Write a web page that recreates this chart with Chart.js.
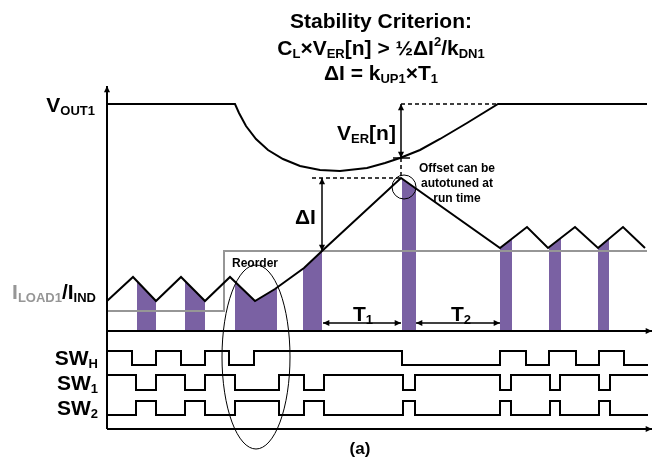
<!DOCTYPE html>
<html>
<head>
<meta charset="utf-8">
<script src="https://cdn.jsdelivr.net/npm/chart.js@4"></script>
<style>
  html, body { margin: 0; padding: 0; background: #fff; }
  #wrap { width: 653px; height: 466px; }
</style>
</head>
<body>
<div id="wrap"><canvas id="grafico" width="653" height="466"></canvas></div>
<script>
const voutX = [107, 235, 239, 246, 256, 268, 283, 300, 320, 340, 367, 385, 400, 420, 440, 467, 498, 647];
const voutY = [104, 104, 113, 126, 139, 150, 159, 166, 170, 171, 168, 163, 158, 150, 139, 123, 104, 104];

const iLoadX = [107, 224, 224, 647];
const iLoadY = [311, 311, 251, 251];

const iIndX = [107, 133, 156, 181, 205, 230, 255, 275, 304, 322, 401, 500, 527, 548, 575, 598, 623, 645];
const iIndY = [301, 277, 301, 277, 301, 277, 301, 289, 268, 251, 178, 248, 227, 248, 227, 248, 227, 248];

// conduction windows of SW1 (shaded under the inductor current)
const barSpans = [[137, 156], [185, 205], [235, 277], [303, 322], [402, 416], [500, 512], [549, 561], [598, 609]];
const baseY = 331;

// switch edges and state after each edge (1 = high)
const swHX = [107, 132, 156, 181, 205, 229, 254, 402, 500, 526, 549, 576, 599, 624, 648];
const swHS = [1, 0, 1, 0, 1, 0, 1, 0, 1, 0, 1, 0, 1, 0, 0];
const sw1X = [107, 136, 156, 185, 205, 235, 279, 304, 324, 403, 415, 500, 511, 550, 560, 599, 610, 648];
const sw1S = [1, 0, 1, 0, 1, 0, 1, 0, 1, 0, 1, 0, 1, 0, 1, 0, 1, 1];
const sw2X = sw1X;
const sw2S = [0, 1, 0, 1, 0, 1, 0, 1, 0, 1, 0, 1, 0, 1, 0, 1, 0, 0];
const laneHi = [351, 375, 401];
const laneLo = [365, 390, 415];

const dashedLines = [[[401, 104], [498, 104]], [[312, 178], [401, 178]], [[401, 158], [401, 178]]];
const tickLines = [[[393, 158], [410, 158]]];
const arrows = [[[401, 104], [401, 158]], [[322, 178], [322, 251]], [[323, 323], [401, 323]], [[416, 323], [500, 323]]];
const axisArrows = [[[107, 429], [107, 86]], [[107, 331], [652, 331]], [[107, 429], [652, 429]]];
const ellipses = [[256, 357, 34, 92], [404, 187, 12, 12]];

const purple = "rgb(122, 97, 163)";
const grey = "rgb(150, 150, 150)";
const FONT = "'Liberation Sans', Arial, sans-serif";

const pts = (xs, ys) => xs.map((x, i) => ({ x: x, y: ys[i] }));

function lineAt(x) {
  for (let i = 1; i < iIndX.length; i++) {
    if (x <= iIndX[i]) {
      const t = (x - iIndX[i - 1]) / (iIndX[i] - iIndX[i - 1]);
      return iIndY[i - 1] + t * (iIndY[i] - iIndY[i - 1]);
    }
  }
  return iIndY[iIndY.length - 1];
}
function barTop(span) {
  const out = [{ x: span[0], y: lineAt(span[0]) }];
  iIndX.forEach((x, i) => { if (x > span[0] && x < span[1]) out.push({ x: x, y: iIndY[i] }); });
  out.push({ x: span[1], y: lineAt(span[1]) });
  return out;
}
function lane(xs, ss, k) {
  return xs.map((x, i) => ({ x: x, y: ss[i] ? laneHi[k] : laneLo[k] }));
}

const lineDs = (data, color, width, extra) => Object.assign({
  data: data, borderColor: color, borderWidth: width, pointRadius: 0, fill: false, tension: 0, order: 1,
}, extra || {});

const datasets = [
  lineDs(pts(voutX, voutY), "#000", 2),
  lineDs(pts(iIndX, iIndY), "#000", 2),
  lineDs(pts(iLoadX, iLoadY), grey, 2),
  lineDs(lane(swHX, swHS, 0), "#000", 2, { stepped: true }),
  lineDs(lane(sw1X, sw1S, 1), "#000", 2, { stepped: true }),
  lineDs(lane(sw2X, sw2S, 2), "#000", 2, { stepped: true }),
];
dashedLines.forEach(l => datasets.push(lineDs(l.map(p => ({ x: p[0], y: p[1] })), "#000", 1.5, { borderDash: [4, 3] })));
tickLines.forEach(l => datasets.push(lineDs(l.map(p => ({ x: p[0], y: p[1] })), "#000", 1.5)));
barSpans.forEach(s => datasets.push({
  data: barTop(s), borderWidth: 0, pointRadius: 0, tension: 0, order: 5,
  backgroundColor: purple, fill: { value: baseY },
}));

function arrowHead(ctx, x1, y1, x2, y2, size) {
  const a = Math.atan2(y2 - y1, x2 - x1);
  ctx.beginPath();
  ctx.moveTo(x2, y2);
  ctx.lineTo(x2 - size * Math.cos(a - 0.45), y2 - size * Math.sin(a - 0.45));
  ctx.lineTo(x2 - size * Math.cos(a + 0.45), y2 - size * Math.sin(a + 0.45));
  ctx.closePath();
  ctx.fill();
}

function rich(ctx, parts, x, y, align, size) {
  const sub = Math.round(size * 0.62);
  const widths = parts.map(p => {
    ctx.font = "bold " + (p[1] === "n" ? size : sub) + "px " + FONT;
    return ctx.measureText(p[0]).width;
  });
  const total = widths.reduce((a, b) => a + b, 0);
  let cx = align === "center" ? x - total / 2 : align === "right" ? x - total : x;
  ctx.textAlign = "left";
  ctx.textBaseline = "alphabetic";
  const base = y + size * 0.36;
  parts.forEach((p, i) => {
    ctx.font = "bold " + (p[1] === "n" ? size : sub) + "px " + FONT;
    ctx.fillStyle = p[2] || "#000";
    const dy = p[1] === "b" ? size * 0.18 : p[1] === "p" ? -size * 0.42 : 0;
    ctx.fillText(p[0], cx, base + dy);
    cx += widths[i];
  });
}

const labels = [
  { parts: [["Stability Criterion:", "n"]], x: 381, y: 20, align: "center", size: 21 },
  { parts: [["C", "n"], ["L", "b"], ["\u00d7V", "n"], ["ER", "b"], ["[n] > \u00bd\u0394I", "n"], ["2", "p"], ["/k", "n"], ["DN1", "b"]], x: 381, y: 47, align: "center", size: 21 },
  { parts: [["\u0394I = k", "n"], ["UP1", "b"], ["\u00d7T", "n"], ["1", "b"]], x: 381, y: 72, align: "center", size: 21 },
  { parts: [["V", "n"], ["OUT1", "b"]], x: 95, y: 104, align: "right", size: 21 },
  { parts: [["I", "n", grey], ["LOAD1", "b", grey], ["/I", "n"], ["IND", "b"]], x: 96, y: 291, align: "right", size: 21 },
  { parts: [["SW", "n"], ["H", "b"]], x: 98, y: 357, align: "right", size: 21 },
  { parts: [["SW", "n"], ["1", "b"]], x: 98, y: 382, align: "right", size: 21 },
  { parts: [["SW", "n"], ["2", "b"]], x: 98, y: 407, align: "right", size: 21 },
  { parts: [["\u0394I", "n"]], x: 295, y: 216, align: "left", size: 21 },
  { parts: [["V", "n"], ["ER", "b"], ["[n]", "n"]], x: 337, y: 132, align: "left", size: 21 },
  { parts: [["Offset can be", "n"]], x: 457, y: 168, align: "center", size: 12 },
  { parts: [["autotuned at", "n"]], x: 457, y: 183, align: "center", size: 12 },
  { parts: [["run time", "n"]], x: 457, y: 198, align: "center", size: 12 },
  { parts: [["Reorder", "n"]], x: 232, y: 263, align: "left", size: 12 },
  { parts: [["T", "n"], ["1", "b"]], x: 353, y: 313, align: "left", size: 21 },
  { parts: [["T", "n"], ["2", "b"]], x: 451, y: 313, align: "left", size: 21 },
  { parts: [["(a)", "n"]], x: 360, y: 448, align: "center", size: 17 },
];

const annotations = {
  id: "annotations",
  afterDatasetsDraw(chart) {
    const ctx = chart.ctx;
    const sx = chart.scales.x, sy = chart.scales.y;
    const X = v => sx.getPixelForValue(v), Y = v => sy.getPixelForValue(v);
    ctx.save();
    ctx.strokeStyle = "#000";
    ctx.fillStyle = "#000";
    // axes with arrow heads
    ctx.lineWidth = 2;
    axisArrows.forEach(a => {
      ctx.beginPath();
      ctx.moveTo(X(a[0][0]), Y(a[0][1]));
      ctx.lineTo(X(a[1][0]), Y(a[1][1]));
      ctx.stroke();
      arrowHead(ctx, X(a[0][0]), Y(a[0][1]), X(a[1][0]), Y(a[1][1]), 7);
    });
    // double headed dimension arrows
    ctx.lineWidth = 1.5;
    arrows.forEach(a => {
      const x1 = X(a[0][0]), y1 = Y(a[0][1]), x2 = X(a[1][0]), y2 = Y(a[1][1]);
      ctx.beginPath();
      ctx.moveTo(x1, y1);
      ctx.lineTo(x2, y2);
      ctx.stroke();
      arrowHead(ctx, x1, y1, x2, y2, 7);
      arrowHead(ctx, x2, y2, x1, y1, 7);
    });
    // ellipses
    ctx.lineWidth = 1;
    ellipses.forEach(e => {
      ctx.beginPath();
      ctx.ellipse(X(e[0]), Y(e[1]), Math.abs(X(e[0] + e[2]) - X(e[0])), Math.abs(Y(e[1] + e[3]) - Y(e[1])), 0, 0, Math.PI * 2);
      ctx.stroke();
    });
    labels.forEach(l => rich(ctx, l.parts, X(l.x), Y(l.y), l.align, l.size));
    ctx.restore();
  },
};

const ctxDiagrama = document.getElementById("grafico").getContext("2d");
const graficoDiagrama = new Chart(ctxDiagrama, {
  type: "line",
  data: { datasets: datasets },
  options: {
    responsive: false,
    animation: false,
    layout: { padding: 0 },
    scales: {
      x: { type: "linear", min: 0, max: 653, display: false },
      y: { type: "linear", min: 0, max: 466, reverse: true, display: false },
    },
    plugins: {
      legend: { display: false },
      tooltip: { enabled: false },
    },
  },
  plugins: [annotations],
});
</script>
</body>
</html>
